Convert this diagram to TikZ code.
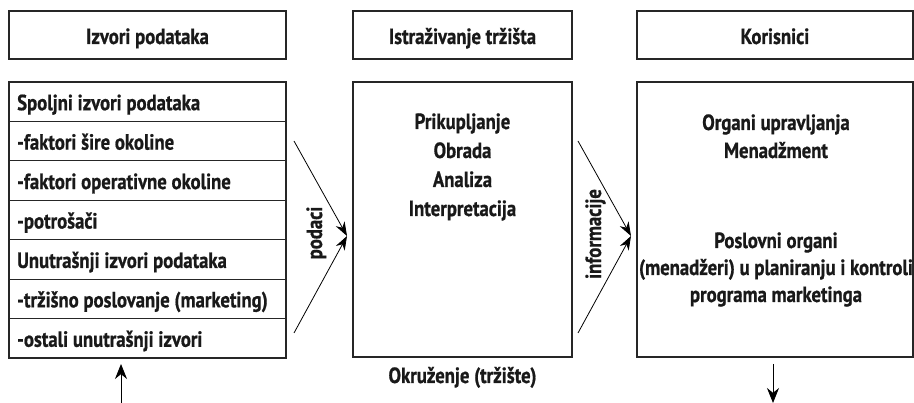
\documentclass[tikz,border=0pt]{standalone}
\usepackage{fontspec}
\setmainfont{PT Sans}[FakeStretch=0.85,BoldFeatures={FakeBold=0.8}]
\usetikzlibrary{arrows.meta}
\begin{document}
\begin{tikzpicture}[x=1pt,y=-1pt,
  box/.style={draw=black!85,line width=1.1pt,rectangle,inner sep=0pt},
  lbl/.style={font=\fontsize{22}{29}\selectfont\bfseries,text=black!90,inner sep=0pt,anchor=base},
  arr/.style={draw=black,line width=0.8pt,-{Stealth[length=14pt,width=10pt]}},
  varr/.style={draw=black,line width=0.9pt,-{Stealth[length=15pt,width=12pt]}}]
\useasboundingbox (0,0) rectangle (914,403);
% top header boxes
\node[box,minimum width=277pt,minimum height=48pt] (h1) at (147.5,35) {};
\node[box,minimum width=219pt,minimum height=48pt] (h2) at (462.5,35) {};
\node[box,minimum width=276pt,minimum height=48pt] (h3) at (775,35) {};
\node[lbl] (h1t) at (147.5,44) {Izvori podataka};
\node[lbl] (h2t) at (462.5,44) {Istraživanje tržišta};
\node[lbl] (h3t) at (775,44) {Korisnici};
% left source table
\foreach \i/\t in {1/Spoljni izvori podataka,2/-faktori šire okoline,3/-faktori operativne okoline,4/-potrošači,5/Unutrašnji izvori podataka,6/-tržišno poslovanje (marketing),7/-ostali unutrašnji izvori}{
  \node[box,minimum width=277pt,minimum height=39.4pt] (r\i) at (147.5,{82+39.43*(\i-0.5)}) {};
  \node[lbl,anchor=base west] (r\i t) at (17,{82+39.43*(\i-0.5)+8.5}) {\t};
}
% middle box
\node[box,minimum width=219pt,minimum height=275pt] (mid) at (462.5,219.5) {};
\node[lbl] (m1) at (462.5,129) {Prikupljanje};
\node[lbl] (m2) at (462.5,158) {Obrada};
\node[lbl] (m3) at (462.5,187) {Analiza};
\node[lbl] (m4) at (462.5,216) {Interpretacija};
\node[lbl] (env) at (462.5,383) {Okruženje (tržište)};
% right box
\node[box,minimum width=276pt,minimum height=275pt] (usr) at (775,219.5) {};
\node[lbl] (u1) at (776,130) {Organi upravljanja};
\node[lbl] (u2) at (776,158) {Menadžment};
\node[lbl] (u3) at (776,248) {Poslovni organi};
\node[lbl] (u4) at (776,275) {(menadžeri) u planiranju i kontroli};
\node[lbl] (u5) at (776,302) {programa marketinga};
% arrows podaci
\coordinate (p1) at (294,141);
\coordinate (p2) at (294,333);
\coordinate (pin) at (347,236);
\draw[arr] (p1) -- (pin);
\draw[arr] (p2) -- (pin);
\node[lbl,rotate=90,anchor=base] (pod) at (322,233) {podaci};
% arrows informacije
\coordinate (i1) at (578,141);
\coordinate (i2) at (578,333);
\coordinate (iin) at (631,236);
\draw[arr] (i1) -- (iin);
\draw[arr] (i2) -- (iin);
\node[lbl,rotate=90,anchor=base] (inf) at (601,234) {informacije};
% vertical arrows
\coordinate (bl) at (121,403);
\draw[varr] (bl) -- (121,364);
\coordinate (br) at (773,403);
\draw[varr] (773,364) -- (br);
\end{tikzpicture}
\end{document}
